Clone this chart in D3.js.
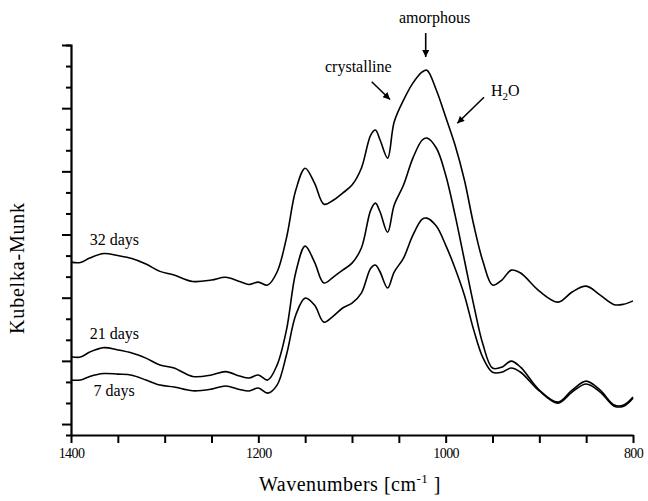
<!DOCTYPE html>
<html>
<head>
<meta charset="utf-8">
<script src="https://cdn.jsdelivr.net/npm/d3@7.9.0/dist/d3.min.js"></script>
<style>
  body { margin: 0; background: #fff; }
  text { font-family: "Liberation Serif", "DejaVu Serif", serif; fill: #000; }
</style>
</head>
<body>
<svg id="chart" width="648" height="501"></svg>
<script>
// wavenumbers (cm-1), shared by all three spectra
const wavenumbers = [1400, 1390, 1380, 1365, 1350, 1335, 1320, 1305, 1290, 1270, 1250, 1235, 1220, 1210, 1200, 1190,
  1180, 1170, 1160, 1150, 1140, 1130, 1120, 1110, 1100, 1090, 1080, 1075, 1070, 1062, 1055, 1045, 1035, 1025, 1020,
  1010, 1000, 990, 980, 970, 960, 950, 940, 930, 920, 900, 880, 865, 850, 835, 820, 810, 800];

// Kubelka-Munk (offset, arbitrary units)
const days32 = [7.69, 7.67, 7.88, 8.10, 8.00, 7.86, 7.60, 7.25, 7.08, 6.77, 6.84, 6.97, 6.77, 6.63, 6.74, 6.60,
  7.22, 8.83, 11.11, 12.15, 11.44, 10.44, 10.63, 10.97, 11.35, 12.15, 13.72, 13.96, 13.49, 12.63, 14.34, 15.38, 16.19, 16.72, 16.80,
  15.86, 14.58, 13.25, 11.59, 9.45, 7.69, 6.60, 6.84, 7.31, 7.17, 6.31, 5.79, 6.27, 6.55, 6.12, 5.67, 5.69, 5.85];
const days21 = [3.20, 3.18, 3.42, 3.63, 3.52, 3.37, 3.13, 2.80, 2.66, 2.26, 2.33, 2.49, 2.28, 2.19, 2.33, 2.09,
  2.80, 4.46, 7.21, 8.45, 7.69, 6.70, 6.98, 7.31, 7.64, 8.36, 10.16, 10.49, 10.07, 9.11, 10.39, 11.35, 12.63, 13.49, 13.58,
  13.11, 11.83, 9.93, 7.79, 5.65, 3.75, 2.66, 2.70, 2.99, 2.70, 1.61, 1.04, 1.61, 2.04, 1.61, 0.90, 0.90, 1.28];
const days7 = [2.09, 2.09, 2.26, 2.40, 2.37, 2.32, 2.09, 1.85, 1.76, 1.58, 1.66, 1.81, 1.64, 1.57, 1.71, 1.47,
  1.85, 3.28, 5.18, 5.98, 5.65, 4.84, 5.13, 5.51, 5.74, 6.22, 7.40, 7.55, 7.22, 6.46, 7.22, 7.88, 8.97, 9.73, 9.78,
  9.40, 8.50, 7.40, 6.12, 4.46, 3.13, 2.46, 2.46, 2.66, 2.46, 1.57, 0.99, 1.52, 1.90, 1.52, 0.85, 0.85, 1.23];

const seriesNames = ['32 days', '21 days', '7 days'];
const seriesValues = [days32, days21, days7];
// where each label sits: [wavenumber, value]
const labelSpots = [[1380, 8.5], [1380, 4.04], [1376, 1.34]];

const xTicks = [1400, 1200, 1000, 800];

const svg = d3.select('#chart');
const W = 648, H = 501;

const x = d3.scaleLinear().domain([1400, 800]).range([71, 633]);
// unit ticks, 0 at the lowest tick; the x axis sits a little below it
const y = d3.scaleLinear().domain([-0.52, 18]).range([435, 45]);

// x axis
const xAxis = svg.append('g').attr('transform', `translate(0,${y(-0.52)})`);
xAxis.call(d3.axisBottom(x).tickValues(d3.range(1400, 799, -50)).tickSize(8).tickSizeOuter(0)
  .tickFormat(d => xTicks.includes(d) ? d : ''));
xAxis.select('.domain').attr('stroke-width', 2.2);
xAxis.selectAll('.tick line').attr('stroke-width', 2);
xAxis.selectAll('.tick text').attr('font-size', 14).attr('dy', '0.85em')
  .attr('font-family', '"Liberation Serif", serif').attr('letter-spacing', -0.6);

// y axis
const yAxis = svg.append('g').attr('transform', `translate(71,0)`);
yAxis.call(d3.axisLeft(y).tickValues(d3.range(0, 19)).tickFormat('').tickSizeOuter(0).tickSize(5));
yAxis.selectAll('.tick line').attr('x2', d => d % 3 === 0 ? -9 : -5).attr('stroke-width', 2);
yAxis.select('.domain').attr('stroke-width', 2.2);

// spectra
const line = d3.line()
  .x((d, i) => x(wavenumbers[i]))
  .y(d => y(d))
  .curve(d3.curveCatmullRom.alpha(0.5));

svg.append('g').selectAll('path')
  .data(seriesValues)
  .join('path')
  .attr('d', line)
  .attr('fill', 'none')
  .attr('stroke', '#000')
  .attr('stroke-width', 1.6);

svg.append('g').selectAll('text')
  .data(seriesNames)
  .join('text')
  .attr('x', (d, i) => x(labelSpots[i][0]))
  .attr('y', (d, i) => y(labelSpots[i][1]))
  .attr('font-size', 16)
  .text(d => d);

// annotations
svg.append('defs').append('marker')
  .attr('id', 'head').attr('viewBox', '0 0 10 10')
  .attr('refX', 10).attr('refY', 5)
  .attr('markerWidth', 9).attr('markerHeight', 7)
  .attr('markerUnits', 'userSpaceOnUse')
  .attr('orient', 'auto')
  .append('path').attr('d', 'M0,0L10,5L0,10Z').attr('fill', '#000');

const notes = [
  {text: 'amorphous', tx: 399, ty: 23, from: [425.7, 33], to: [425.7, 57]},
  {text: 'crystalline', tx: 325, ty: 72, from: [371.7, 81.7], to: [390, 99.5]},
];
notes.forEach(n => {
  svg.append('text').attr('x', n.tx).attr('y', n.ty).attr('font-size', 16).text(n.text);
  svg.append('line').attr('x1', n.from[0]).attr('y1', n.from[1]).attr('x2', n.to[0]).attr('y2', n.to[1])
    .attr('stroke', '#000').attr('stroke-width', 1.6).attr('marker-end', 'url(#head)');
});
const h2o = svg.append('text').attr('x', 491).attr('y', 96).attr('font-size', 16);
h2o.append('tspan').text('H');
h2o.append('tspan').attr('font-size', 11).attr('dy', 4).text('2');
h2o.append('tspan').attr('dy', -4).text('O');
svg.append('line').attr('x1', 484).attr('y1', 97.3).attr('x2', 457.3).attr('y2', 123.3)
  .attr('stroke', '#000').attr('stroke-width', 1.6).attr('marker-end', 'url(#head)');

// axis titles
const xt = svg.append('text').attr('x', 350).attr('y', 491).attr('text-anchor', 'middle')
  .attr('font-size', 20).attr('letter-spacing', 0.5);
xt.append('tspan').text('Wavenumbers [cm');
xt.append('tspan').attr('font-size', 13).attr('dy', -8).text('-1');
xt.append('tspan').attr('dy', 8).text(' ]');

svg.append('text')
  .attr('transform', 'translate(24,268) rotate(-90)')
  .attr('text-anchor', 'middle')
  .attr('font-size', 20)
  .attr('letter-spacing', 0.8)
  .text('Kubelka-Munk');
</script>
</body>
</html>
